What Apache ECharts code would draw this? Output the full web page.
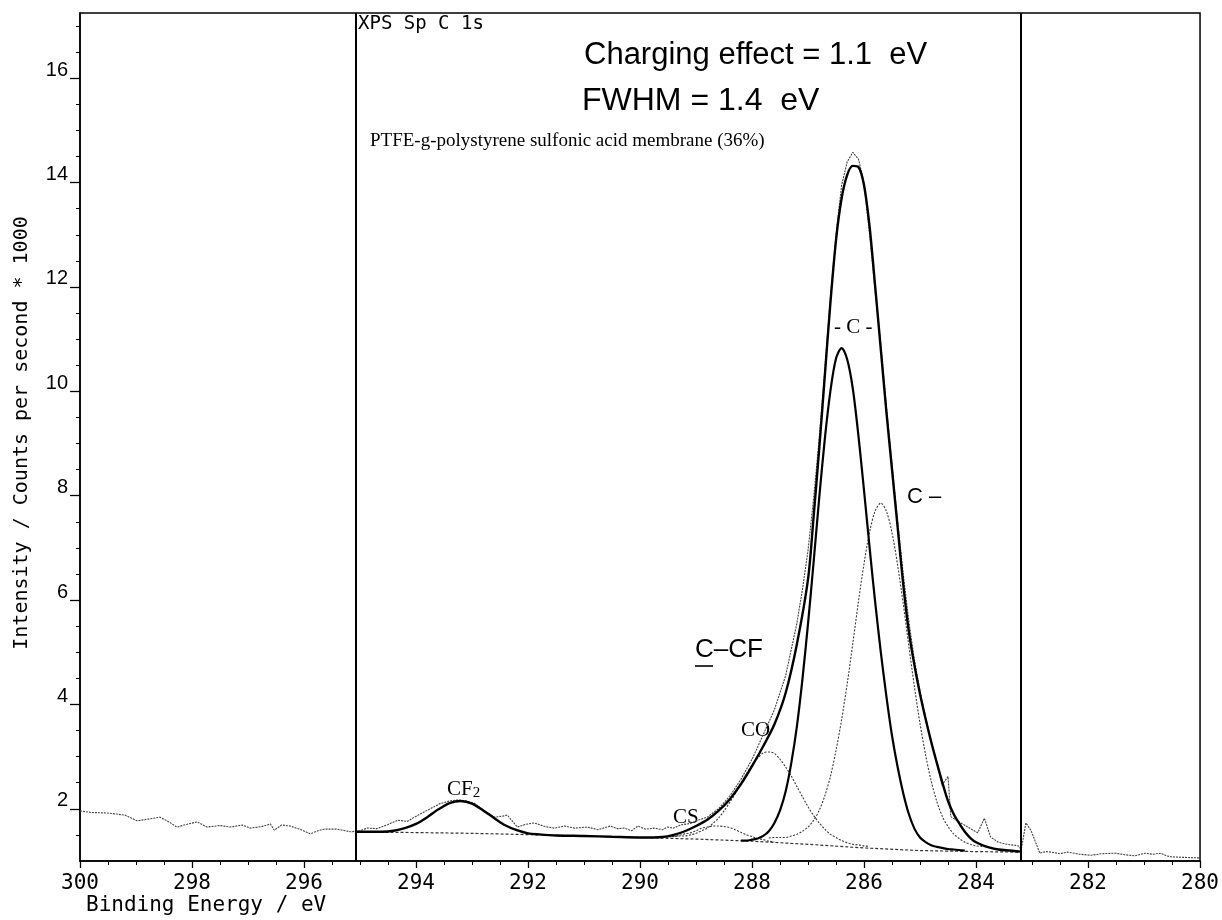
<!DOCTYPE html>
<html>
<head>
<meta charset="utf-8">
<script src="https://cdn.jsdelivr.net/npm/echarts@6/dist/echarts.min.js"></script>
<style>
html,body{margin:0;padding:0;background:#fff;}
#c{width:1222px;height:920px;}
</style>
</head>
<body>
<div id="c"></div>
<script>
// ---------- data (binding energy eV, intensity counts/s * 1000) ----------
const xTicks = [280, 282, 284, 286, 288, 290, 292, 294, 296, 298, 300];
const yTickLabels = [2, 4, 6, 8, 10, 12, 14, 16];
const fitWindow = [295.08, 283.2];

const rawSpectrum = [
[300.0,1.96],[299.8,1.93],[299.52,1.92],[299.35,1.90],[299.2,1.88],[298.98,1.77],[298.8,1.80],[298.57,1.84],[298.4,1.74],[298.27,1.65],[298.1,1.70],[297.91,1.75],[297.73,1.65],[297.5,1.68],[297.32,1.65],[297.1,1.69],[296.96,1.63],[296.75,1.66],[296.6,1.71],[296.53,1.59],[296.4,1.69],[296.25,1.67],[296.05,1.60],[295.89,1.52],[295.75,1.58],[295.64,1.61],[295.41,1.61],[295.17,1.56],
[295.0,1.58],[294.87,1.63],[294.7,1.62],[294.5,1.70],[294.33,1.78],[294.15,1.76],[294.03,1.84],[293.8,1.97],[293.57,2.10],[293.4,2.15],[293.26,2.17],[293.1,2.15],[292.96,2.11],[292.8,1.98],[292.6,1.84],[292.45,1.86],[292.37,1.88],[292.19,1.65],[292.05,1.70],[291.89,1.73],[291.7,1.66],[291.53,1.63],[291.35,1.67],[291.17,1.63],[290.94,1.65],[290.75,1.60],[290.53,1.67],[290.4,1.62],[290.28,1.63],[290.15,1.58],[290.04,1.67],[289.9,1.61],[289.74,1.63],[289.6,1.60],[289.51,1.65],[289.4,1.63],[289.28,1.69],[289.1,1.72],[288.97,1.78],[288.8,1.84],[288.6,2.0],[288.4,2.24],[288.2,2.56],[288.0,2.95],[287.8,3.42],[287.6,3.90],[287.4,4.55],[287.2,5.55],[287.1,6.2],[287.0,6.95],[286.9,7.95],[286.8,9.1],[286.7,10.4],[286.6,11.8],[286.5,13.0],[286.4,13.95],[286.3,14.4],[286.2,14.58],[286.1,14.45],[286.0,14.0],[285.9,13.0],[285.8,11.9],[285.7,10.9],[285.6,9.7],[285.5,8.6],[285.4,7.5],[285.3,6.5],[285.2,5.6],[285.1,4.85],[285.0,4.25],[284.9,3.75],[284.8,3.3],[284.7,2.9],[284.61,2.45],[284.5,2.62],[284.45,1.85],[284.35,1.78],[284.27,1.73],[284.1,1.62],[283.97,1.54],[283.85,1.82],[283.74,1.46],[283.6,1.36],[283.45,1.32],[283.3,1.30],[283.22,1.28],[283.2,1.17],[283.11,1.73],[283.02,1.59],[282.86,1.15],[282.75,1.18],[282.66,1.17],[282.5,1.14],[282.36,1.17],[282.15,1.13],[281.95,1.11],[281.75,1.14],[281.52,1.15],[281.35,1.12],[281.16,1.10],[280.98,1.15],[280.85,1.13],[280.7,1.15],[280.6,1.10],[280.52,1.08],[280.3,1.07],[280.04,1.06],[280.0,1.06]
];

const envelope = [
[295.08,1.56],[294.8,1.56],[294.6,1.56],[294.4,1.58],[294.2,1.63],[294.0,1.71],[293.8,1.84],[293.6,1.99],[293.4,2.11],[293.2,2.15],[293.0,2.10],[292.8,1.97],[292.6,1.82],[292.4,1.68],[292.2,1.59],[292.0,1.53],[291.8,1.51],[291.5,1.49],[291.0,1.48],[290.5,1.465],[290.0,1.45],[289.6,1.46],[289.4,1.50],[289.2,1.57],[289.0,1.67],[288.8,1.79],[288.6,1.96],[288.4,2.18],[288.2,2.47],[288.0,2.82],[287.8,3.20],[287.6,3.62],[287.4,4.22],[287.2,5.15],[287.0,6.40],[286.9,7.60],[286.8,8.90],[286.7,10.30],[286.6,11.70],[286.5,12.90],[286.4,13.70],[286.3,14.15],[286.2,14.32],[286.1,14.30],[286.0,13.95],[285.9,13.15],[285.8,12.00],[285.7,10.80],[285.6,9.60],[285.5,8.50],[285.4,7.40],[285.3,6.30],[285.2,5.40],[285.1,4.75],[285.0,4.20],[284.9,3.72],[284.8,3.28],[284.7,2.88],[284.6,2.50],[284.5,2.15],[284.4,1.90],[284.3,1.72],[284.2,1.56],[284.1,1.44],[284.0,1.36],[283.8,1.27],[283.6,1.22],[283.4,1.20],[283.2,1.18]
];

const peakCC = [
[288.2,1.39],[288.1,1.39],[288.0,1.41],[287.9,1.43],[287.8,1.48],[287.7,1.57],[287.6,1.73],[287.5,1.97],[287.4,2.33],[287.3,2.87],[287.2,3.57],[287.1,4.48],[287.0,5.55],[286.9,6.73],[286.8,7.96],[286.7,9.09],[286.6,10.01],[286.5,10.63],[286.4,10.83],[286.3,10.61],[286.2,10.05],[286.1,9.15],[286.0,8.10],[285.9,7.00],[285.8,5.95],[285.7,5.00],[285.6,4.15],[285.5,3.40],[285.4,2.80],[285.3,2.30],[285.2,1.90],[285.1,1.62],[285.0,1.45],[284.9,1.36],[284.8,1.30],[284.7,1.27],[284.6,1.25],[284.5,1.23],[284.4,1.22],[284.2,1.20]
];

const peakCminus = [
[287.7,1.44],[287.6,1.45],[287.5,1.45],[287.4,1.45],[287.3,1.48],[287.2,1.51],[287.1,1.57],[287.0,1.65],[286.9,1.78],[286.8,1.97],[286.7,2.25],[286.6,2.62],[286.5,3.12],[286.4,3.71],[286.3,4.40],[286.2,5.17],[286.1,5.97],[286.0,6.70],[285.9,7.31],[285.8,7.71],[285.7,7.86],[285.6,7.70],[285.5,7.29],[285.4,6.67],[285.3,5.93],[285.2,5.12],[285.1,4.34],[285.0,3.63],[284.9,3.03],[284.8,2.53],[284.7,2.14],[284.6,1.85],[284.5,1.66],[284.4,1.52],[284.3,1.43],[284.2,1.36],[284.1,1.32],[284.0,1.29],[283.9,1.28],[283.8,1.27],[283.7,1.26]
];

const peakCO = [
[289.5,1.47],[289.4,1.47],[289.3,1.48],[289.2,1.48],[289.1,1.50],[289.0,1.53],[288.9,1.58],[288.8,1.63],[288.7,1.72],[288.6,1.82],[288.5,1.96],[288.4,2.12],[288.3,2.29],[288.2,2.49],[288.1,2.67],[288.0,2.84],[287.9,2.97],[287.8,3.07],[287.7,3.09],[287.6,3.06],[287.5,2.95],[287.4,2.80],[287.3,2.63],[287.2,2.43],[287.1,2.23],[287.0,2.04],[286.9,1.87],[286.8,1.73],[286.7,1.61],[286.6,1.51],[286.5,1.45],[286.4,1.39],[286.3,1.35],[286.2,1.32],[286.1,1.31],[286.0,1.29],[285.9,1.28]
];

const peakCS = [
[289.6,1.45],[289.5,1.46],[289.4,1.47],[289.3,1.49],[289.2,1.52],[289.1,1.54],[289.0,1.58],[288.9,1.63],[288.8,1.65],[288.7,1.67],[288.6,1.67],[288.5,1.66],[288.4,1.64],[288.3,1.60],[288.2,1.55],[288.1,1.50],[288.0,1.47],[287.9,1.43],[287.8,1.41],[287.7,1.38],[287.6,1.37]
];

const baseline = [
[295.08,1.555],[294,1.545],[293,1.53],[292,1.505],[291,1.48],[290,1.45],[289,1.42],[288,1.38],[287,1.32],[286,1.25],[285,1.20],[284,1.18],[283.2,1.17]
];

// ---------- chart ----------
const MONO = "'DejaVu Sans Mono', monospace";
const SANS = "'Liberation Sans', Arial, sans-serif";

const minorY = [];
for (let v = 1.5; v <= 17.0001; v += 0.5) minorY.push(+v.toFixed(1));

const chart = echarts.init(document.getElementById('c'), null, {renderer: 'canvas'});
const thin = {color: '#3a3a3a', width: 1.1, type: [2, 1.5]};

chart.setOption({
  backgroundColor: '#ffffff',
  animation: false,
  grid: {left: 80, right: 21, top: 13, bottom: 59, show: true, borderColor: '#000', borderWidth: 1.5, backgroundColor: 'transparent'},
  xAxis: {
    type: 'value', min: 280, max: 300, interval: 2, inverse: true,
    axisLine: {show: true, onZero: false, lineStyle: {color: '#000', width: 1.5}},
    axisTick: {show: true, inside: false, length: 7, lineStyle: {color: '#000', width: 1.3}},
    minorTick: {show: true, splitNumber: 4, length: 4, lineStyle: {color: '#000', width: 1}},
    splitLine: {show: false}, minorSplitLine: {show: false},
    axisLabel: {color: '#000', fontFamily: MONO, fontSize: 21, margin: 12}
  },
  yAxis: [{
    type: 'value', min: 1, max: 17.25, interval: 0.5,
    axisLine: {show: true, onZero: false, lineStyle: {color: '#000', width: 1.5}},
    axisTick: {show: true, inside: false, length: 10, customValues: yTickLabels, lineStyle: {color: '#000', width: 1.3}},
    axisLabel: {color: '#000', fontFamily: SANS, fontSize: 20, margin: 12, verticalAlign: 'bottom', lineHeight: 16, customValues: yTickLabels,
      formatter: v => (Math.abs(v - Math.round(v)) < 1e-6 && Math.round(v) % 2 === 0 && v >= 2 && v <= 16) ? String(Math.round(v)) : ''},
    splitLine: {show: false}
  }, {
    type: 'value', min: 1, max: 17.25, interval: 0.5, position: 'left',
    axisLine: {show: false},
    axisTick: {show: true, inside: false, length: 4, customValues: minorY, lineStyle: {color: '#000', width: 1}},
    axisLabel: {show: false},
    splitLine: {show: false}
  }],
  series: [
    {name: 'raw', type: 'line', data: rawSpectrum, symbol: 'none', lineStyle: {color: '#444', width: 1.1, type: [2, 1]}, z: 2},
    {name: 'baseline', type: 'line', data: baseline, symbol: 'none', lineStyle: {color: '#333', width: 1.2, type: [3, 2]}, z: 2,
      markLine: {symbol: 'none', silent: true, label: {show: false},
        lineStyle: {color: '#000', width: 2, type: 'solid'},
        data: fitWindow.map(x => ({xAxis: x}))}},
    {name: 'CS', type: 'line', data: peakCS, symbol: 'none', smooth: 0.3, lineStyle: thin, z: 3},
    {name: 'CO', type: 'line', data: peakCO, symbol: 'none', smooth: 0.3, lineStyle: thin, z: 3},
    {name: 'C-', type: 'line', data: peakCminus, symbol: 'none', smooth: 0.3, lineStyle: thin, z: 3},
    {name: 'C-C', type: 'line', data: peakCC, symbol: 'none', smooth: 0.3, lineStyle: {color: '#000', width: 2.2}, z: 4},
    {name: 'envelope', type: 'line', data: envelope, symbol: 'none', smooth: 0.3, lineStyle: {color: '#000', width: 2.4}, z: 5}
  ],
  graphic: [
    {type: 'text', x: 22, y: 433, rotation: Math.PI / 2,
      style: {text: 'Intensity / Counts per second * 1000', font: "20px 'DejaVu Sans Mono'", fill: '#000', textAlign: 'center', textVerticalAlign: 'middle'}},
    {type: 'text', x: 86, y: 906, style: {text: 'Binding Energy / eV', font: "21px 'DejaVu Sans Mono'", fill: '#000', textVerticalAlign: 'middle'}},
    {type: 'text', x: 358, y: 24, style: {text: 'XPS Sp C 1s', font: "19px 'DejaVu Sans Mono'", fill: '#000', textVerticalAlign: 'middle'}},
    {type: 'text', x: 584, y: 55, style: {text: 'Charging effect = 1.1  eV', font: "31px 'Liberation Sans'", fill: '#000', textVerticalAlign: 'middle'}},
    {type: 'text', x: 582, y: 101, style: {text: 'FWHM = 1.4  eV', font: "32px 'Liberation Sans'", fill: '#000', textVerticalAlign: 'middle'}},
    {type: 'text', x: 370, y: 141, style: {text: 'PTFE-g-polystyrene sulfonic acid membrane (36%)', font: "19px 'Liberation Serif'", fill: '#000', textVerticalAlign: 'middle'}},
    {type: 'text', x: 834, y: 327, style: {text: '- C -', font: "21px 'Liberation Serif'", fill: '#000', textVerticalAlign: 'middle'}},
    {type: 'text', x: 907, y: 497, style: {text: 'C \u2013', font: "22px 'Liberation Sans'", fill: '#000', textVerticalAlign: 'middle'}},
    {type: 'text', x: 695, y: 650, style: {text: 'C\u2013CF', font: "26px 'Liberation Sans'", fill: '#000', textVerticalAlign: 'middle'}},
    {type: 'line', shape: {x1: 695, y1: 666, x2: 713, y2: 666}, style: {stroke: '#000', lineWidth: 1.6}},
    {type: 'text', x: 741, y: 730, style: {text: 'CO', font: "21px 'Liberation Serif'", fill: '#000', textVerticalAlign: 'middle'}},
    {type: 'text', x: 673, y: 817, style: {text: 'CS', font: "21px 'Liberation Serif'", fill: '#000', textVerticalAlign: 'middle'}},
    {type: 'text', x: 447, y: 789, style: {text: '{a|CF}{b|2}', rich: {a: {font: "21px 'Liberation Serif'", fill: '#000'}, b: {font: "15px 'Liberation Serif'", fill: '#000', padding: [9, 0, 0, 0]}}, textVerticalAlign: 'middle'}}
  ]
});
</script>
</body>
</html>
